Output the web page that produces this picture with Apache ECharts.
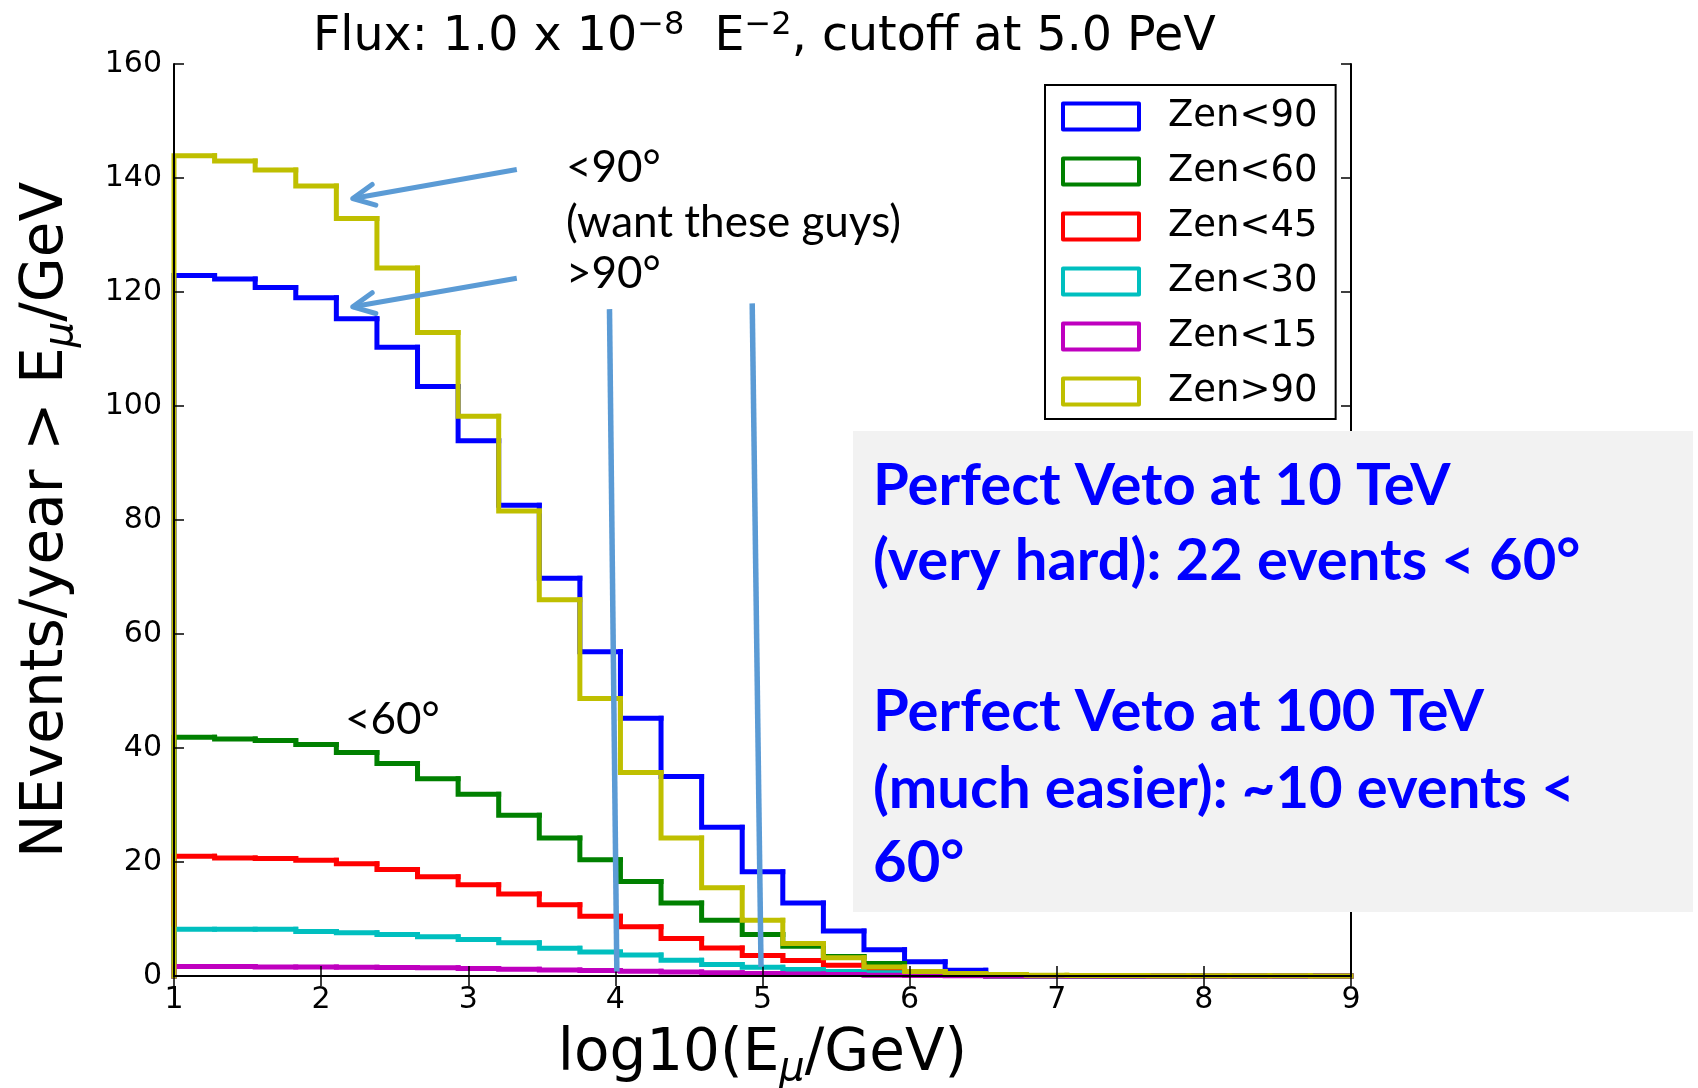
<!DOCTYPE html>
<html>
<head>
<meta charset="utf-8">
<script src="https://cdn.jsdelivr.net/npm/echarts@6/dist/echarts.min.js"></script>
<style>
  html, body { margin: 0; padding: 0; background: #fff; }
  #chart { width: 1698px; height: 1088px; }
</style>
</head>
<body>
<div id="chart"></div>
<script>
// Histogram binning: equal-width bins in log10(E_mu / GeV)
const binLow = 1;
const binHigh = 9;
const binCount = 29;

// Events per year above E_mu, per zenith selection (one value per bin)
const seriesNames = ['Zen<90', 'Zen<60', 'Zen<45', 'Zen<30', 'Zen<15', 'Zen>90'];

const zenBelow90 = [122.9, 122.3, 120.8, 119.0, 115.3, 110.3, 103.4, 93.9, 82.6, 69.8,
                    56.9, 45.2, 35.0, 26.1, 18.3, 12.8, 7.9, 4.6, 2.5, 1.0,
                    0.1, 0.05, 0, 0, 0, 0, 0, 0, 0];
const zenBelow60 = [41.9, 41.6, 41.3, 40.6, 39.2, 37.3, 34.6, 31.9, 28.2, 24.2,
                    20.4, 16.6, 12.8, 9.8, 7.3, 5.2, 3.4, 2.2, 0.6, 0.2,
                    0, 0, 0, 0, 0, 0, 0, 0, 0];
const zenBelow45 = [21.0, 20.7, 20.6, 20.3, 19.7, 18.7, 17.4, 16.0, 14.4, 12.5,
                    10.5, 8.65, 6.6, 4.9, 3.6, 2.7, 1.9, 1.1, 0.5, 0.2,
                    0, 0, 0, 0, 0, 0, 0, 0, 0];
const zenBelow30 = [8.2, 8.2, 8.2, 7.8, 7.6, 7.3, 6.9, 6.4, 5.85, 4.85,
                    4.2, 3.7, 2.75, 2.0, 1.55, 1.15, 0.8, 0.55, 0.3, 0.1,
                    0, 0, 0, 0, 0, 0, 0, 0, 0];
const zenBelow15 = [1.65, 1.65, 1.6, 1.6, 1.55, 1.5, 1.45, 1.3, 1.2, 1.05,
                    0.95, 0.85, 0.7, 0.55, 0.45, 0.35, 0.25, 0.15, 0.1, 0.05,
                    0, 0, 0, 0, 0, 0, 0, 0, 0];
const zenAbove90 = [143.9, 143.0, 141.4, 138.6, 132.9, 124.2, 112.9, 98.2, 81.6, 66.0,
                    48.7, 35.7, 24.2, 15.5, 9.8, 5.7, 3.2, 1.6, 0.8, 0.45,
                    0.25, 0.15, 0.1, 0.08, 0.06, 0.05, 0.04, 0.03, 0.02];

const seriesValues = [zenBelow90, zenBelow60, zenBelow45, zenBelow30, zenBelow15, zenAbove90];

// Axis ticks
const xTicks = [1, 2, 3, 4, 5, 6, 7, 8, 9];
const yTicks = [0, 20, 40, 60, 80, 100, 120, 140, 160];

// Classic matplotlib cycle colours
const palette = ['#0000ff', '#008000', '#ff0000', '#00bfbf', '#bf00bf', '#bfbf00'];
const noteBlue = '#5b9bd5';

const binEdges = [];
for (let k = 0; k <= binCount; k++) binEdges.push(binLow + (binHigh - binLow) * k / binCount);

// One item per bin: [left edge, right edge, value, previous value, closes outline]
function stepItems(values) {
  return values.map((v, i) => [
    binEdges[i], binEdges[i + 1], v,
    i === 0 ? 0 : values[i - 1],
    i === values.length - 1 ? 1 : 0
  ]);
}

function renderStep(params, api) {
  const x0 = api.value(0), x1 = api.value(1), v = api.value(2), vPrev = api.value(3);
  const pts = [api.coord([x0, vPrev]), api.coord([x0, v]), api.coord([x1, v])];
  if (api.value(4)) pts.push(api.coord([x1, 0]));
  return {
    type: 'polyline',
    shape: { points: pts },
    style: { stroke: api.visual('color'), lineWidth: 5, fill: null, lineCap: 'square', lineJoin: 'miter' }
  };
}

const font = 'DejaVu Sans';
const chart = echarts.init(document.getElementById('chart'), null, { renderer: 'canvas' });

const tickStyle = { show: true, inside: true, length: 10, lineStyle: { color: '#000', width: 1.5 } };
const frameLine = { show: true, lineStyle: { color: '#000', width: 2 } };
const axisTitleStyle = {
  fontFamily: font, fontSize: 58, color: '#000', lineHeight: 70,
  rich: { sub: { fontFamily: font, fontSize: 40, fontStyle: 'italic', color: '#000',
                 verticalAlign: 'bottom', lineHeight: 40 } }
};

chart.setOption({
  animation: false,
  backgroundColor: '#ffffff',
  title: {
    text: 'Flux: 1.0 x 10{sup|\u22128}  E{sup|\u22122}, cutoff at 5.0 PeV',
    left: 313,
    top: 10,
    padding: 0,
    textStyle: {
      fontFamily: font, fontSize: 47.5, fontWeight: 'normal', color: '#000', lineHeight: 56,
      rich: { sup: { fontFamily: font, fontSize: 32, color: '#000', verticalAlign: 'top', lineHeight: 32 } }
    }
  },
  legend: {
    orient: 'vertical',
    left: 1045,
    top: 85,
    padding: [13, 18, 9, 16],
    itemWidth: 76,
    itemHeight: 26,
    itemGap: 18,
    icon: 'rect',
    selectedMode: false,
    borderColor: '#000',
    borderWidth: 2,
    backgroundColor: '#fff',
    textStyle: { fontFamily: font, fontSize: 37, color: '#000', padding: [0, 0, 0, 24] },
    data: seriesNames.map((n, i) => ({
      name: n,
      itemStyle: { color: '#fff', borderColor: palette[i], borderWidth: 4, borderJoin: 'round' }
    }))
  },
  grid: { left: 174, right: 347, top: 64, bottom: 112, containLabel: false, outerBoundsMode: 'none' },
  xAxis: [{
    type: 'value', min: binLow, max: binHigh, interval: 1, position: 'bottom', z: 5,
    axisLine: frameLine, axisTick: tickStyle, splitLine: { show: false },
    axisLabel: { fontFamily: font, fontSize: 30, color: '#000', margin: 9,
                 formatter: v => (xTicks.indexOf(v) >= 0 ? String(v) : '') },
    name: 'log10(E{sub|\u03bc}/GeV)',
    nameLocation: 'middle',
    nameGap: 30,
    nameTextStyle: axisTitleStyle
  }, {
    type: 'value', min: binLow, max: binHigh, interval: 1, position: 'top', z: 5,
    axisLine: frameLine, axisTick: tickStyle, axisLabel: { show: false }, splitLine: { show: false }
  }],
  yAxis: [{
    type: 'value', min: 0, max: 160, interval: 20, position: 'left', z: 5,
    axisLine: frameLine, axisTick: tickStyle, splitLine: { show: false },
    axisLabel: { fontFamily: font, fontSize: 30, color: '#000', margin: 12,
                 formatter: v => (yTicks.indexOf(v) >= 0 ? String(v) : '') },
    name: 'NEvents/year > E{sub|\u03bc}/GeV',
    nameLocation: 'middle',
    nameGap: 92,
    nameTextStyle: axisTitleStyle
  }, {
    type: 'value', min: 0, max: 160, interval: 20, position: 'right', z: 5,
    axisLine: frameLine, axisTick: tickStyle, axisLabel: { show: false }, splitLine: { show: false }
  }],
  series: seriesNames.map((n, i) => ({
    name: n,
    type: 'custom',
    xAxisIndex: 0,
    yAxisIndex: 0,
    renderItem: renderStep,
    itemStyle: { color: palette[i], borderColor: palette[i] },
    dimensions: ['x0', 'x1', 'v', 'vPrev', 'last'],
    encode: { x: [0, 1], y: [2, 3] },
    data: stepItems(seriesValues[i]),
    silent: true,
    z: 2
  }))
});

// Hand-drawn notes: arrows toward the two upper curves and the two veto thresholds
const arrowNotes = [
  { tail: [3.33, 141.5], tip: [2.215, 136.4] },
  { tail: [3.33, 122.4], tip: [2.215, 117.4] }
];
const vetoNotes = [
  { top: [3.96, 117.0], bottom: [4.01, 0.8] },
  { top: [4.93, 118.0], bottom: [4.99, 1.6] }
];

const toPx = p => chart.convertToPixel({ gridIndex: 0 }, p);
const graphics = [];

vetoNotes.forEach(v => {
  const a = toPx(v.top), b = toPx(v.bottom);
  graphics.push({
    type: 'line', z: 20, silent: true,
    shape: { x1: a[0], y1: a[1], x2: b[0], y2: b[1] },
    style: { stroke: noteBlue, lineWidth: 5.5, lineCap: 'butt' }
  });
});

arrowNotes.forEach(n => {
  const tail = toPx(n.tail), tip = toPx(n.tip);
  const dx = tail[0] - tip[0], dy = tail[1] - tip[1];
  const len = Math.hypot(dx, dy);
  const ux = dx / len, uy = dy / len;
  const head = 24, ang = 26 * Math.PI / 180;
  const arm = s => [tip[0] + head * (ux * Math.cos(ang) - s * uy * Math.sin(ang)),
                    tip[1] + head * (uy * Math.cos(ang) + s * ux * Math.sin(ang))];
  graphics.push({
    type: 'line', z: 20, silent: true,
    shape: { x1: tail[0], y1: tail[1], x2: tip[0], y2: tip[1] },
    style: { stroke: noteBlue, lineWidth: 5, lineCap: 'butt' }
  });
  graphics.push({
    type: 'polyline', z: 20, silent: true,
    shape: { points: [arm(1), tip, arm(-1)] },
    style: { stroke: noteBlue, lineWidth: 5, fill: null, lineJoin: 'round', lineCap: 'round' }
  });
});

const noteFont = '44px Lato';
[['<90\u00b0', 566, 168], ['(want these guys)', 566, 223], ['>90\u00b0', 566, 274], ['<60\u00b0', 345, 720]]
  .forEach(([t, x, y]) => graphics.push({
    type: 'text', z: 20, silent: true, x: x, y: y,
    style: { text: t, font: noteFont, fill: '#000', textAlign: 'left', textVerticalAlign: 'middle' }
  }));

// Summary panel
graphics.push({
  type: 'rect', z: 30, silent: true,
  shape: { x: 853, y: 431, width: 840, height: 481 },
  style: { fill: '#f2f2f2' }
});
[['Perfect Veto at 10 TeV', 486], ['(very hard): 22 events < 60\u00b0', 561],
 ['Perfect Veto at 100 TeV', 712], ['(much easier): ~10 events <', 789], ['60\u00b0', 863]]
  .forEach(([t, y]) => graphics.push({
    type: 'text', z: 31, silent: true, x: 873, y: y,
    style: { text: t, font: 'bold 58px Lato', fill: '#0000ff', textAlign: 'left', textVerticalAlign: 'middle' }
  }));

chart.setOption({ graphic: graphics });
</script>
</body>
</html>
